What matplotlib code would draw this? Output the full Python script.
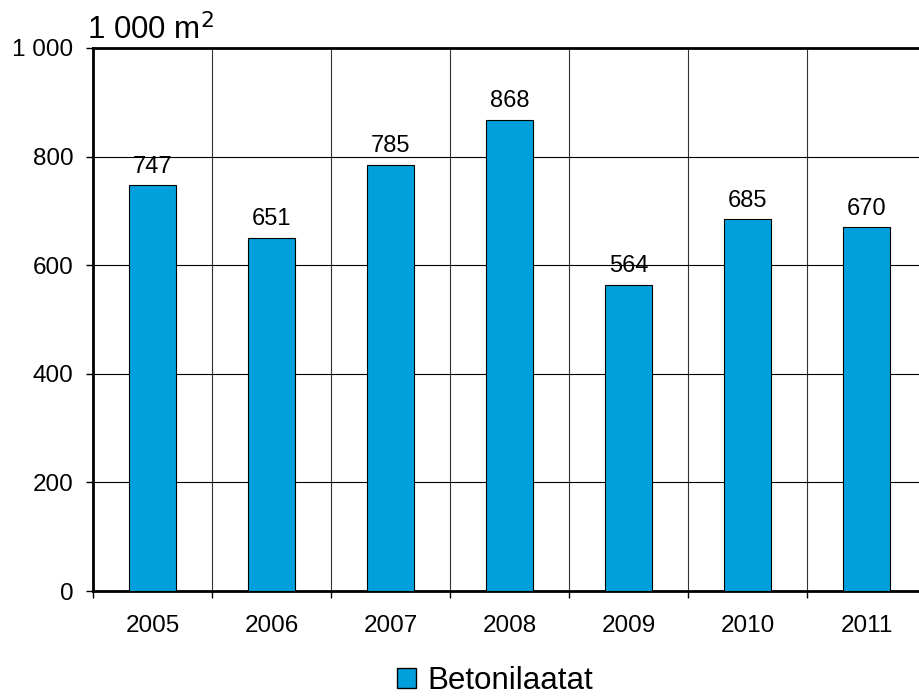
import matplotlib.pyplot as plt
from matplotlib.patches import Patch

plt.rcParams['font.family'] = ['Liberation Sans', 'DejaVu Sans']

years = ["2005", "2006", "2007", "2008", "2009", "2010", "2011"]
values = [747, 651, 785, 868, 564, 685, 670]
yticks = [0, 200, 400, 600, 800, 1000]
ytick_labels = ["0", "200", "400", "600", "800", "1 000"]

fig = plt.figure(figsize=(9.19, 6.96), dpi=100)
ax = fig.add_axes([93 / 919, 1 - 591 / 696, 833 / 919, 543 / 696])

x = range(len(years))
bars = ax.bar(x, values, width=0.4, color="#00A0DC", edgecolor="black", linewidth=0.8, zorder=3)

for xi, v in zip(x, values):
    ax.text(xi, v + 34, str(v), ha="center", va="center", fontsize=17)

ax.set_xlim(-0.5, len(years) - 0.5)
ax.set_ylim(0, 1000)
ax.set_yticks(yticks)
ax.set_yticklabels(ytick_labels, fontsize=17.5)

# category boundaries as ticks + vertical lines
bounds = [i - 0.5 for i in range(len(years) + 1)]
ax.set_xticks(bounds)
ax.set_xticklabels([])
ax.set_xticks(list(x), minor=True)
ax.set_xticklabels(years, minor=True, fontsize=17.5)
ax.tick_params(axis="x", which="minor", length=0, pad=17)
ax.tick_params(axis="x", which="major", length=5, width=1, direction="out")
ax.tick_params(axis="y", length=5, width=1, direction="out", pad=9)

for b in bounds[1:]:
    ax.axvline(b, color="#333333", linewidth=0.8, zorder=1)
for t in yticks[1:-1]:
    ax.axhline(t, color="black", linewidth=0.8, zorder=1)

for s in ["left", "bottom", "top"]:
    ax.spines[s].set_linewidth(2)
ax.spines["right"].set_visible(False)

fig.text(87 / 919, 1 - 30 / 696, "1 000 m$^2$", fontsize=22.5, va="center", ha="left")

fig.legend(handles=[Patch(facecolor="#00A0DC", edgecolor="black", label="Betonilaatat")],
           loc="center", bbox_to_anchor=(495 / 919, 1 - 681 / 696), frameon=False,
           fontsize=22.5, handlelength=0.62, handleheight=0.62, handletextpad=0.35,
           borderpad=0.05, borderaxespad=0)

fig.savefig("out.png", dpi=100)
